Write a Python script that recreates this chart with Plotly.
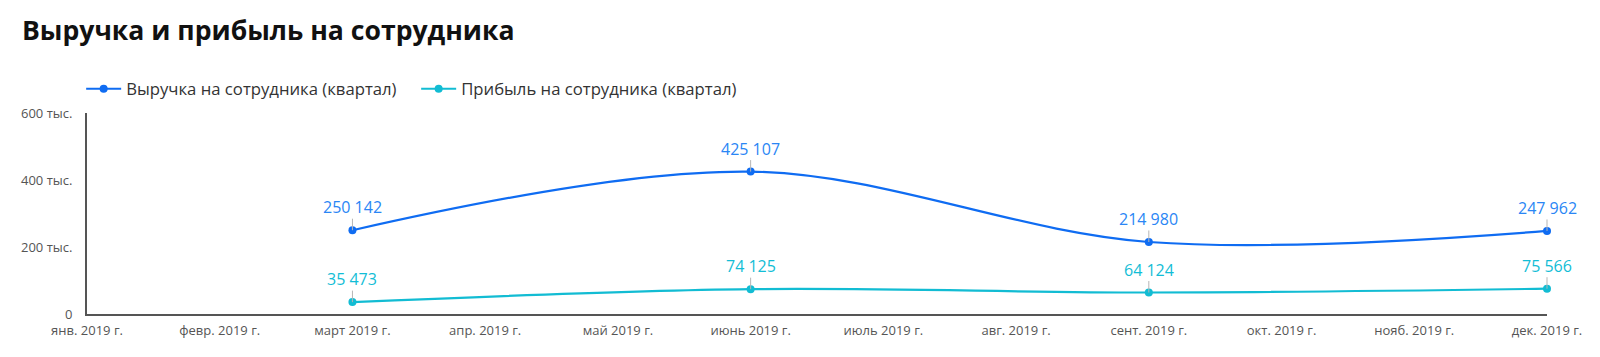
import plotly.graph_objects as go

months = ["янв. 2019 г.", "февр. 2019 г.", "март 2019 г.", "апр. 2019 г.", "май 2019 г.",
          "июнь 2019 г.", "июль 2019 г.", "авг. 2019 г.", "сент. 2019 г.", "окт. 2019 г.",
          "нояб. 2019 г.", "дек. 2019 г."]
quarter_months = ["март 2019 г.", "июнь 2019 г.", "сент. 2019 г.", "дек. 2019 г."]
revenue = [250142, 425107, 214980, 247962]
profit = [35473, 74125, 64124, 75566]
y_ticks = [0, 200000, 400000, 600000]
y_tick_text = ["0", "200 тыс.", "400 тыс.", "600 тыс."]

rev_color = "#0f6cf2"
rev_label = "#2a86f5"
prof_color = "#12bcd3"
prof_label = "#12bdd6"

x_idx = [months.index(m) for m in quarter_months]

def fmt(v):
    return f"{v:,}".replace(",", " ")

fig = go.Figure()
fig.add_trace(go.Scatter(x=x_idx, y=revenue, mode="lines+markers",
                         name="Выручка на сотрудника (квартал)", cliponaxis=False,
                         line=dict(color=rev_color, width=2.2, shape="spline", smoothing=1.0),
                         marker=dict(size=8, color=rev_color)))
fig.add_trace(go.Scatter(x=x_idx, y=profit, mode="lines+markers",
                         name="Прибыль на сотрудника (квартал)", cliponaxis=False,
                         line=dict(color=prof_color, width=2.2, shape="spline", smoothing=1.0),
                         marker=dict(size=8, color=prof_color)))

for xs, ys, c in [(x_idx, revenue, rev_label), (x_idx, profit, prof_label)]:
    for xv, yv in zip(xs, ys):
        fig.add_annotation(x=xv, y=yv, text=fmt(yv), showarrow=True, arrowhead=0,
                           arrowwidth=1, arrowcolor="#b5b5b5", ax=0, ay=-23,
                           font=dict(family="Open Sans", size=16, color=c),
                           borderpad=0)

fig.update_layout(
    width=1600, height=357,
    margin=dict(l=87, r=53, t=113, b=43),
    paper_bgcolor="white", plot_bgcolor="white",
    font=dict(family="Open Sans", color="#555555"),
    title=dict(text="<b>Выручка и прибыль на сотрудника</b>", xref="container", yref="container",
               x=22/1600, xanchor="left", y=1-31/357, yanchor="middle",
               font=dict(family="Open Sans", size=26.6, color="#111111")),
    legend=dict(orientation="h", x=-0.004, xanchor="left", y=1.12, yanchor="middle",
                font=dict(family="Open Sans", size=16.7, color="#333333"),
                itemwidth=35, entrywidth=285),
    showlegend=True,
)
fig.update_xaxes(range=[0, 11], tickvals=list(range(12)), ticktext=months,
                 showgrid=False, zeroline=False, showline=True, linecolor="#555555", linewidth=2,
                 tickfont=dict(family="Open Sans", size=13, color="#555555"), ticks="",
                 ticklabelstandoff=3)
fig.update_yaxes(range=[0, 600000], tickvals=y_ticks, ticktext=y_tick_text,
                 showgrid=False, zeroline=False, showline=True, linecolor="#555555", linewidth=2,
                 tickfont=dict(family="Open Sans", size=13, color="#555555"), ticks="",
                 ticklabelstandoff=10)

fig.write_html("out.html", config={"displayModeBar": False})
with open("out.html", encoding="utf-8") as f:
    html = f.read()
html = html.replace("<body>", '<body style="margin:0;overflow:hidden">', 1)
with open("out.html", "w", encoding="utf-8") as f:
    f.write(html)
